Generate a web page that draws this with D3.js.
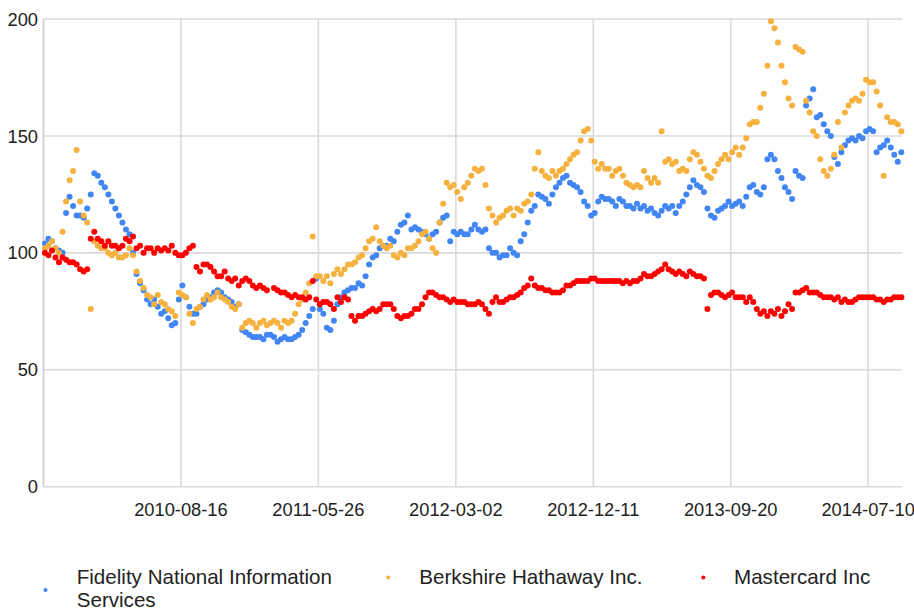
<!DOCTYPE html>
<html>
<head>
<meta charset="utf-8">
<script src="https://cdn.jsdelivr.net/npm/d3@7/dist/d3.min.js"></script>
<style>
    body { margin: 0; background: #fff; }
    text { font-family: Arial, "Liberation Sans", sans-serif; fill: #222; }
</style>
</head>
<body>
<div id="chart"></div>
<script>

var seriesNames = ["Fidelity National Information Services", "Berkshire Hathaway Inc.", "Mastercard Inc"];
var seriesColors = ["#4285f4", "#f6b13f", "#ff0000"];

// one value every 5 trading days
var rowStep = 5;
var firstRow = 2;
var lastRow = 1218;

var tickRows = [195, 390, 585, 780, 975, 1170];
var tickLabels = ["2010-08-16", "2011-05-26", "2012-03-02", "2012-12-11", "2013-09-20", "2014-07-10"];
var yTicks = [0, 50, 100, 150, 200];

var fisValues = [
    104, 106, 105, 102, 101, 100, 117, 124, 120, 116,
    116, 115, 119, 125, 134, 133, 130, 128, 125, 122,
    119, 116, 113, 110, 108, 100, 91, 87, 84, 80,
    78, 80, 77, 74, 75, 72, 69, 70, 80, 86,
    81, 77, 74, 74, 77, 78, 80, 81, 83, 84,
    83, 81, 80, 79, 77, 78, 67, 66, 65, 64,
    64, 64, 63, 65, 65, 64, 62, 63, 64, 63,
    63, 64, 65, 67, 70, 73, 76, 89, 76, 74,
    68, 67, 71, 78, 81, 83, 84, 85, 85, 87,
    86, 90, 95, 98, 99, 102, 103, 103, 106, 105,
    109, 112, 113, 116, 110, 111, 110, 109, 108, 106,
    108, 109, 113, 115, 116, 105, 109, 108, 109, 108,
    108, 110, 112, 110, 109, 110, 102, 100, 100, 98,
    99, 99, 102, 100, 99, 105, 108, 113, 118, 120,
    125, 124, 123, 121, 125, 128, 130, 132, 133, 130,
    129, 128, 126, 122, 120, 116, 117, 122, 124, 123,
    123, 122, 120, 123, 122, 120, 120, 119, 121, 119,
    120, 118, 119, 117, 116, 118, 120, 119, 120, 117,
    120, 122, 125, 128, 131, 129, 128, 126, 119, 116,
    115, 118, 119, 120, 122, 120, 121, 122, 120, 124,
    128, 129, 126, 125, 128, 140, 142, 140, 135, 132,
    128, 126, 123, 135, 133, 132, 163, 166, 170, 158,
    159, 155, 152, 150, 141, 138, 143, 146, 148, 149,
    148, 150, 149, 152, 153, 152, 143, 145, 146, 148,
    145, 142, 139, 143
];

var brkValues = [
    102, 103, 105, 102, 100, 109, 122, 131, 135, 144,
    122, 116, 113, 76, 105, 103, 102, 102, 100, 99,
    100, 98, 98, 99, 102, 99, 92, 88, 85, 82,
    81, 78, 82, 79, 78, 76, 75, 73, 83, 82,
    81, 74, 70, 76, 77, 80, 82, 80, 81, 83,
    81, 80, 79, 77, 76, 78, 68, 70, 71, 70,
    68, 70, 71, 69, 70, 71, 70, 68, 71, 70,
    71, 74, 78, 80, 83, 87, 107, 90, 90, 88,
    90, 87, 91, 93, 91, 93, 95, 95, 96, 98,
    99, 102, 105, 106, 111, 105, 103, 102, 103, 99,
    98, 100, 99, 102, 102, 103, 105, 108, 109, 106,
    102, 100, 113, 121, 130, 128, 129, 126, 123, 128,
    130, 133, 136, 135, 136, 129, 119, 116, 113, 115,
    116, 118, 119, 116, 119, 118, 121, 122, 125, 136,
    143, 135, 133, 132, 135, 133, 135, 136, 138, 140,
    142, 143, 148, 152, 153, 148, 139, 136, 138, 136,
    136, 133, 135, 136, 133, 130, 129, 128, 129, 128,
    135, 132, 130, 132, 130, 152, 139, 140, 138, 139,
    135, 136, 135, 140, 143, 142, 139, 136, 133, 132,
    135, 138, 140, 142, 140, 143, 145, 142, 145, 149,
    155, 156, 156, 162, 168, 180, 199, 196, 190, 180,
    173, 166, 163, 188, 187, 186, 165, 160, 152, 150,
    140, 135, 133, 136, 142, 156, 145, 160, 163, 165,
    166, 165, 168, 174, 173, 173, 169, 163, 133, 158,
    156, 156, 155, 152
];

var maValues = [
    100, 99, 101, 98, 96, 98, 97, 96, 96, 95,
    93, 92, 93, 106, 109, 106, 105, 103, 105, 103,
    103, 102, 103, 106, 105, 107, 102, 103, 100, 102,
    102, 100, 102, 101, 102, 101, 103, 100, 99, 99,
    100, 102, 103, 94, 92, 95, 95, 94, 92, 90,
    90, 92, 89, 88, 89, 86, 88, 89, 88, 86,
    85, 86, 85, 84, null, 85, 84, 83, 83, 82,
    81, 82, 81, 81, 80, 81, 88, 80, 78, 79,
    79, 78, 76, 81, 79, 81, 80, 73, 71, 73,
    73, 74, 75, 76, 75, 76, 78, 78, 78, 76,
    73, 72, 73, 73, 74, 76, 76, 78, 81, 83,
    83, 82, 81, 81, 80, 79, 80, 79, 79, 79,
    78, 78, 78, 79, 78, 76, 74, 79, 81, 79,
    79, 80, 81, 81, 82, 83, 85, 86, 89, 86,
    85, 85, 84, 84, 83, 83, 83, 84, 86, 86,
    87, 88, 88, 88, 88, 89, 89, 88, 88, 88,
    88, 88, 88, 88, 87, 88, 87, 88, 88, 89,
    91, 90, 90, 91, 92, 93, 95, 93, 92, 91,
    92, 91, 90, 92, 91, 90, 90, 89, 76, 82,
    83, 83, 82, 81, 82, 83, 81, 81, 81, 79,
    81, 79, 76, 74, 75, 73, 75, 74, 76, 73,
    75, 78, 76, 83, 83, 84, 85, 83, 83, 83,
    82, 81, 81, 81, 80, 81, 79, 80, 79, 79,
    80, 81, 81, 81, 81, 81, 80, 80, 79, 80,
    80, 81, 81, 81
];

function drawChart(width, height) {

    var margin = { left: 43.5, right: 12, top: 19, bottom: 123.3 };

    var svg = d3.select("#chart").append("svg")
        .attr("width", width)
        .attr("height", height);

    var x = d3.scaleLinear()
        .domain([0, lastRow])
        .range([margin.left, width - margin.right]);

    var y = d3.scaleLinear()
        .domain([0, 200])
        .range([height - margin.bottom, margin.top]);

    // grid
    svg.append("g").selectAll("line.h")
        .data(yTicks)
        .enter().append("line")
        .attr("x1", x(0)).attr("x2", x(lastRow))
        .attr("y1", function (d) { return y(d); })
        .attr("y2", function (d) { return y(d); })
        .attr("stroke", "#dadada")
        .attr("stroke-width", 1.6);

    svg.append("g").selectAll("line.v")
        .data([0].concat(tickRows))
        .enter().append("line")
        .attr("x1", function (d) { return x(d); })
        .attr("x2", function (d) { return x(d); })
        .attr("y1", y(200)).attr("y2", y(0))
        .attr("stroke", function (d) { return d === 0 ? "#cccccc" : "#dadada"; })
        .attr("stroke-width", 1.6);

    // y labels
    svg.append("g").selectAll("text")
        .data(yTicks)
        .enter().append("text")
        .attr("x", 38)
        .attr("y", function (d) { return y(d); })
        .attr("dy", "0.36em")
        .attr("text-anchor", "end")
        .style("font-size", "18.3px")
        .text(function (d) { return d; });

    // x labels
    svg.append("g").selectAll("text")
        .data(tickRows)
        .enter().append("text")
        .attr("x", function (d) { return x(d); })
        .attr("y", 516)
        .attr("text-anchor", "middle")
        .style("font-size", "18.3px")
        .text(function (d, i) { return tickLabels[i]; });

    var allSeries = [fisValues, brkValues, maValues];

    allSeries.forEach(function (values, s) {
        var pts = values.map(function (v, i) { return { row: firstRow + i * rowStep, value: v }; })
            .filter(function (d) { return d.value !== null; });

        svg.append("g").selectAll("circle")
            .data(pts)
            .enter().append("circle")
            .attr("cx", function (d) { return x(d.row); })
            .attr("cy", function (d) { return y(d.value); })
            .attr("r", 3)
            .attr("fill", seriesColors[s]);
    });

    // legend
    var legendItems = [
        { lines: ["Fidelity National Information", "Services"], dotX: 45.5, dotY: 590, textX: 76.7 },
        { lines: [seriesNames[1]], dotX: 388.3, dotY: 577.5, textX: 419.3 },
        { lines: [seriesNames[2]], dotX: 703.3, dotY: 577.5, textX: 734 }
    ];

    var legend = svg.append("g").selectAll("g")
        .data(legendItems)
        .enter().append("g");

    legend.append("circle")
        .attr("cx", function (d) { return d.dotX; })
        .attr("cy", function (d) { return d.dotY; })
        .attr("r", 2)
        .attr("fill", function (d, i) { return seriesColors[i]; });

    legend.each(function (d) {
        var t = d3.select(this).append("text")
            .attr("x", d.textX)
            .attr("y", 583.5)
            .style("font-size", "20.6px");
        d.lines.forEach(function (line, k) {
            t.append("tspan")
                .attr("x", d.textX)
                .attr("dy", k === 0 ? 0 : 23.5)
                .text(line);
        });
    });
}

drawChart(914, 610);
</script>
</body>
</html>
